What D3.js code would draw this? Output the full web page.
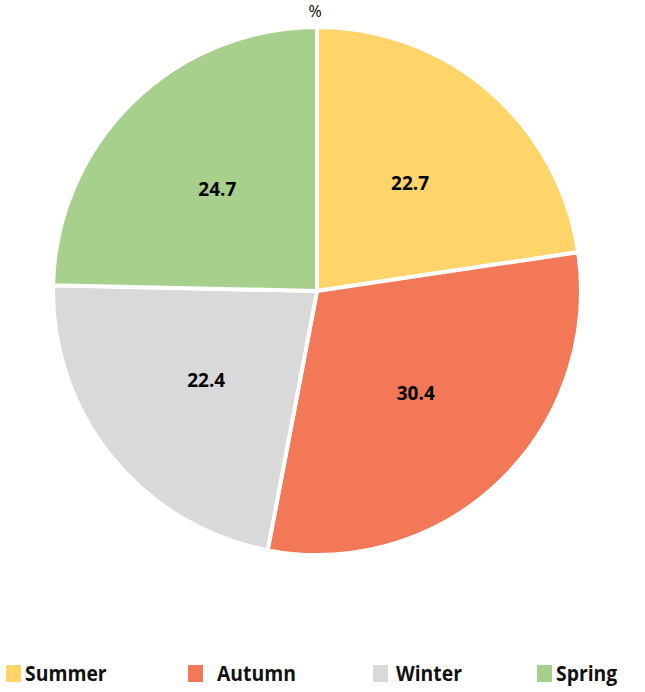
<!DOCTYPE html>
<html>
<head>
<meta charset="utf-8">
<script src="https://cdn.jsdelivr.net/npm/d3@7"></script>
<style>
  body { margin: 0; background: #fff; }
  text { font-family: "Open Sans", "Noto Sans", sans-serif; }
</style>
</head>
<body>
<svg width="645" height="692"></svg>
<script>
var seasons = ["Summer", "Autumn", "Winter", "Spring"];
var shares  = [22.7, 30.4, 22.4, 24.7];
var colours = ["#FFD569", "#F27858", "#D9D9D9", "#A8D08D"];

var width = 645, height = 692;
var cx = 317, cy = 291, radius = 264;

var svg = d3.select("svg");

var data = seasons.map(function(s, i){ return {name: s, value: shares[i]}; });

var colour = d3.scaleOrdinal().domain(seasons).range(colours);

var pie = d3.pie().sort(null).value(function(d){ return d.value; });
var arc = d3.arc().innerRadius(0).outerRadius(radius);
var labelArc = d3.arc().innerRadius(radius * 0.54).outerRadius(radius * 0.54);

var g = svg.append("g").attr("transform", "translate(" + cx + "," + cy + ")");

var arcs = pie(data);

g.selectAll("path")
    .data(arcs)
    .enter()
    .append("path")
    .attr("d", arc)
    .attr("fill", function(d){ return colour(d.data.name); })
    .attr("stroke", "#fff")
    .attr("stroke-width", 4)
    .attr("stroke-linejoin", "round");

g.selectAll("text.val")
    .data(arcs)
    .enter()
    .append("text")
    .attr("class", "val")
    .attr("transform", function(d){ return "translate(" + labelArc.centroid(d) + ")"; })
    .attr("text-anchor", "middle")
    .attr("dy", "0.35em")
    .style("font-size", "19px")
    .style("font-weight", 700)
    .attr("fill", "#000")
    .text(function(d){ return d.data.value.toFixed(1); });

svg.append("text")
    .attr("x", 315)
    .attr("y", 17)
    .attr("text-anchor", "middle")
    .style("font-size", "16px")
    .attr("fill", "#000")
    .text("%");

// legend
var legendX = [6, 188, 373, 537];
var legendGap = [19, 29, 23, 19];
var legend = svg.selectAll("g.leg")
    .data(seasons)
    .enter()
    .append("g")
    .attr("class", "leg")
    .attr("transform", function(d, i){ return "translate(" + legendX[i] + ",665)"; });

legend.append("rect")
    .attr("width", 15)
    .attr("height", 17)
    .attr("fill", function(d){ return colour(d); });

legend.append("text")
    .attr("transform", function(d, i){
      return "translate(" + legendGap[i] + ",16) scale(0.88,1)";
    })
    .style("font-size", "22px")
    .style("font-weight", 700)
    .attr("fill", "#111")
    .text(function(d){ return d; });
</script>
</body>
</html>
